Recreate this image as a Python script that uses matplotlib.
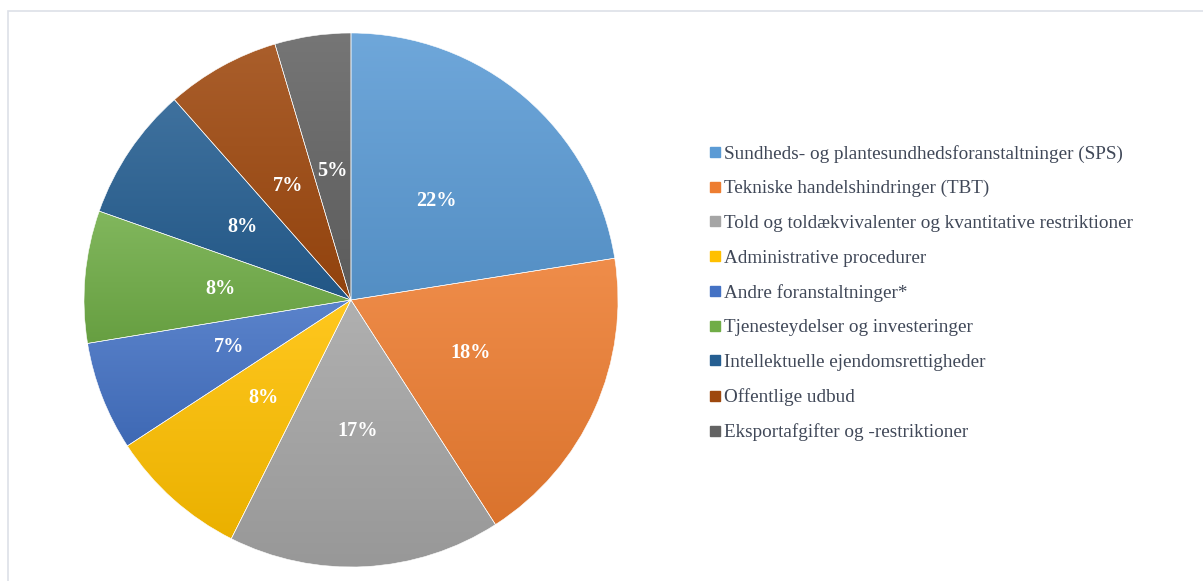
import numpy as np
import matplotlib
matplotlib.use("Agg")
import matplotlib.pyplot as plt
from matplotlib.lines import Line2D
from matplotlib.colors import to_rgb
from matplotlib.patches import Rectangle

categories = [
    "Sundheds- og plantesundhedsforanstaltninger (SPS)",
    "Tekniske handelshindringer (TBT)",
    "Told og toldækvivalenter og kvantitative restriktioner",
    "Administrative procedurer",
    "Andre foranstaltninger*",
    "Tjenesteydelser og investeringer",
    "Intellektuelle ejendomsrettigheder",
    "Offentlige udbud",
    "Eksportafgifter og -restriktioner",
]
values = [22.5, 18.4, 16.5, 8.4, 6.6, 8.0, 8.1, 6.9, 4.6]
pct_labels = ["22%", "18%", "17%", "8%", "7%", "8%", "8%", "7%", "5%"]
colors = ["#5B9BD5", "#ED7D31", "#A5A5A5", "#FFC000", "#4472C4",
          "#70AD47", "#255E91", "#9E480E", "#636363"]

W, H = 1203, 581
fig = plt.figure(figsize=(W / 100, H / 100), dpi=100)
fig.patch.set_facecolor("white")

# light border
border = Rectangle((8 / W, -0.1), 1.2, (H - 11) / H + 0.1, transform=fig.transFigure,
                   fill=False, edgecolor="#DDE0E8", linewidth=1.2)
fig.add_artist(border)

cx, cy, R = 351, 300, 267
ax = fig.add_axes([(cx - R) / W, (H - cy - R) / H, 2 * R / W, 2 * R / H])
wedges, texts, autotexts = ax.pie(
    values, colors=colors, startangle=90, counterclock=False,
    autopct=lambda p: "", pctdistance=0.49, radius=1.0,
    wedgeprops=dict(edgecolor="white", linewidth=0.4))
ax.set_xlim(-1, 1)
ax.set_ylim(-1, 1)
ax.set_aspect("equal")
ax.axis("off")

def mix(c, t, f):
    return tuple(np.array(c) * (1 - f) + np.array(t) * f)

for w, col, at, lab in zip(wedges, colors, autotexts, pct_labels):
    base = np.array(to_rgb(col))
    light = mix(base, (1, 1, 1), 0.12)
    dark = mix(base, (0, 0, 0), 0.08)
    path = w.get_path().transformed(w.get_patch_transform())
    verts = path.vertices
    x0, x1 = verts[:, 0].min(), verts[:, 0].max()
    y0, y1 = verts[:, 1].min(), verts[:, 1].max()
    n = 64
    t = np.linspace(0, 1, n)[:, None]
    grad = (np.array(light)[None, :] * (1 - t) + np.array(dark)[None, :] * t)
    img = np.repeat(grad[:, None, :], 2, axis=1)
    im = ax.imshow(img, extent=(x0, x1, y0, y1), origin="upper",
                   aspect="auto", zorder=1, interpolation="bilinear")
    im.set_clip_path(w)
    w.set_facecolor("none")
    w.set_zorder(2)
    at.set_text(lab)
    at.set_color("white")
    at.set_fontweight("bold")
    at.set_fontsize(14.6)
    at.set_fontfamily("Liberation Serif")
    at.set_zorder(3)
ax.set_xlim(-1, 1)
ax.set_ylim(-1, 1)

handles = [Line2D([0], [0], marker="s", linestyle="none", markersize=6.5,
                  markerfacecolor=c, markeredgecolor=c) for c in colors]
leg = fig.legend(handles, categories, loc="center left",
                 bbox_to_anchor=(710 / W, (H - 293) / H), frameon=False,
                 prop={"family": "Liberation Serif", "size": 13.8},
                 handlelength=0.55, handletextpad=0.2, labelspacing=0.9,
                 borderaxespad=0, borderpad=0)
for txt in leg.get_texts():
    txt.set_color("#404858")

fig.savefig("out.png", dpi=100, facecolor="white")
